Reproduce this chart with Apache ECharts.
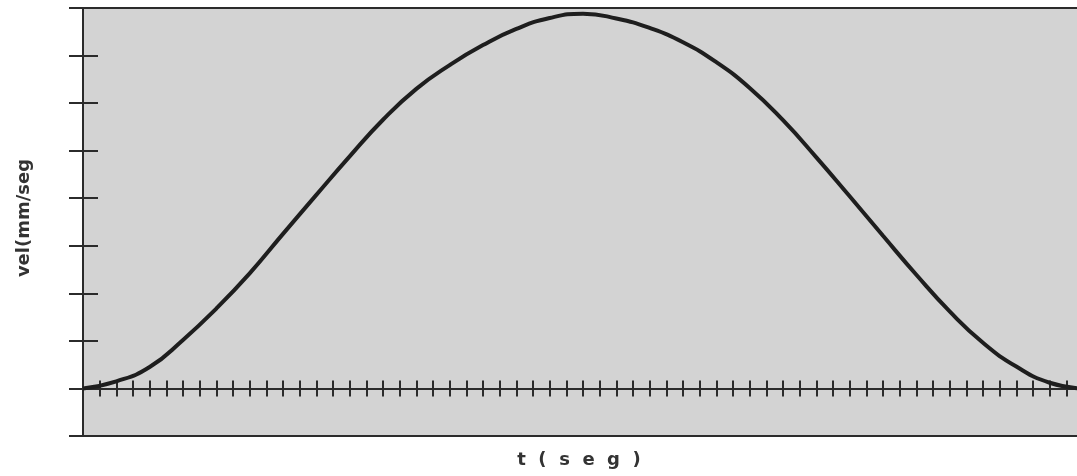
<!DOCTYPE html>
<html>
<head>
<meta charset="utf-8">
<script src="https://cdn.jsdelivr.net/npm/echarts@6/dist/echarts.min.js"></script>
<style>
html,body{margin:0;padding:0;background:#fff;}
#chart{width:1077px;height:476px;}
</style>
</head>
<body>
<div id="chart"></div>
<script>
// Data
var tValues = [0, 2, 4, 6, 8, 10, 12, 14, 16, 18, 20, 22, 24, 26, 28, 30, 32, 34, 36, 38, 40, 42, 44, 46, 48, 50, 52, 54, 56, 58, 60];
var velValues = [0, 0.15, 0.45, 1.02, 1.68, 2.42, 3.25, 4.07, 4.88, 5.65, 6.30, 6.80, 7.22, 7.56, 7.79, 7.88, 7.78, 7.58, 7.28, 6.86, 6.32, 5.64, 4.86, 4.04, 3.21, 2.39, 1.62, 0.96, 0.46, 0.12, 0];
var xAxisName = 't  (  s  e  g  )';
var yAxisName = 'vel(mm/seg';

var chart = echarts.init(document.getElementById('chart'), null, {renderer: 'canvas'});
var lineCol = '#2b2b2b';
var points = tValues.map(function (t, i) { return [t, velValues[i]]; });

function xAx(pos) {
  return {
    type: 'value', position: pos, min: 0, max: 60, interval: 1,
    axisLine: {show: true, onZero: true, lineStyle: {color: lineCol, width: 2}},
    axisTick: {show: true, length: 8, lineStyle: {color: lineCol, width: 2}},
    axisLabel: {show: false}, splitLine: {show: false}
  };
}
function yAx(pos, len) {
  return {
    type: 'value', position: pos, min: -1, max: 8, interval: 1,
    axisLine: {show: true, onZero: true, lineStyle: {color: lineCol, width: 2}},
    axisTick: {show: true, length: len, lineStyle: {color: lineCol, width: 2}},
    axisLabel: {show: false}, splitLine: {show: false}
  };
}

chart.setOption({
  animation: false,
  grid: {
    left: 83, top: 8, width: 1000, height: 428,
    outerBoundsMode: 'none', containLabel: false,
    show: true, backgroundColor: '#d3d3d3', borderColor: lineCol, borderWidth: 2
  },
  xAxis: [xAx('bottom'), xAx('top')],
  yAxis: [yAx('left', 14), yAx('right', 15)],
  graphic: [
    {
      type: 'text',
      x: 579, y: 460,
      style: {text: xAxisName, font: 'bold 18px "DejaVu Sans"', fill: '#333', align: 'center', verticalAlign: 'middle'}
    },
    {
      type: 'text',
      rotation: Math.PI / 2,
      x: 24, y: 218,
      style: {text: yAxisName, font: 'bold 18px "DejaVu Sans"', fill: '#333', align: 'center', verticalAlign: 'middle'}
    }
  ],
  series: [{
    type: 'line', xAxisIndex: 0, yAxisIndex: 0,
    data: points, smooth: 0.5, symbol: 'none',
    lineStyle: {color: '#1e1e1e', width: 4}
  }]
});
</script>
</body>
</html>
